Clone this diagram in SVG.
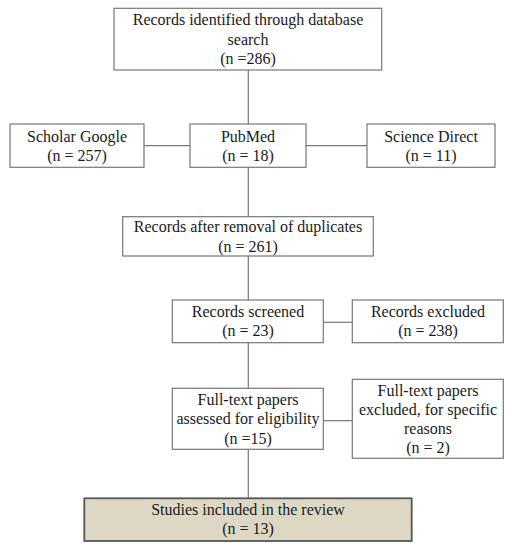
<svg xmlns="http://www.w3.org/2000/svg" width="517" height="550" viewBox="0 0 517 550">
<style>
.box{fill:#ffffff;stroke:#777777;stroke-width:1.2}
.fin{fill:#ddd8c3;stroke:#555555;stroke-width:1.8}
.t{font-family:"Liberation Serif","Times New Roman",serif;font-size:16px;fill:#1a1a1a;text-anchor:middle}
.c{stroke:#777777;stroke-width:1.2;fill:none}
</style>
<rect width="517" height="550" fill="#ffffff"/>
<g id="connectors">
<line class="c" x1="248.3" y1="70" x2="248.3" y2="124"/>
<line class="c" x1="144" y1="145.7" x2="190" y2="145.7"/>
<line class="c" x1="306" y1="145.7" x2="367" y2="145.7"/>
<line class="c" x1="248.3" y1="167.3" x2="248.3" y2="216.7"/>
<line class="c" x1="248.3" y1="256" x2="248.3" y2="300"/>
<line class="c" x1="323.3" y1="322.3" x2="352.3" y2="322.3"/>
<line class="c" x1="248.3" y1="342.7" x2="248.3" y2="388.3"/>
<line class="c" x1="323.3" y1="420.7" x2="352.3" y2="420.7"/>
<line class="c" x1="248.3" y1="449.3" x2="248.3" y2="498.3"/>
</g>
<g id="identified">
<rect class="box" x="114" y="8.3" width="267.7" height="61.7"/>
<text class="t" x="248" y="25">Records identified through database</text>
<text class="t" x="248" y="44.5">search</text>
<text class="t" x="248" y="64">(n =286)</text>
</g>
<g id="scholar">
<rect class="box" x="10" y="124" width="134" height="43.3"/>
<text class="t" x="77" y="141.7">Scholar Google</text>
<text class="t" x="77" y="160.5">(n = 257)</text>
</g>
<g id="pubmed">
<rect class="box" x="190" y="124" width="116" height="43.3"/>
<text class="t" x="248" y="141.7">PubMed</text>
<text class="t" x="248" y="160.5">(n = 18)</text>
</g>
<g id="science">
<rect class="box" x="367" y="124" width="128" height="43.3"/>
<text class="t" x="431" y="141.7">Science Direct</text>
<text class="t" x="431" y="160.5">(n = 11)</text>
</g>
<g id="duplicates">
<rect class="box" x="122.7" y="216.7" width="250.6" height="39.3"/>
<text class="t" x="248" y="232">Records after removal of duplicates</text>
<text class="t" x="248" y="251.5">(n = 261)</text>
</g>
<g id="screened">
<rect class="box" x="172.3" y="300" width="151" height="42.7"/>
<text class="t" x="248" y="316.5">Records screened</text>
<text class="t" x="248" y="335.5">(n = 23)</text>
</g>
<g id="excluded">
<rect class="box" x="352.3" y="300" width="151" height="42.7"/>
<text class="t" x="428" y="316.5">Records excluded</text>
<text class="t" x="428" y="335.5">(n = 238)</text>
</g>
<g id="fulltext">
<rect class="box" x="172.3" y="388.3" width="151" height="61"/>
<text class="t" x="248" y="404.5">Full-text papers</text>
<text class="t" x="248" y="424">assessed for eligibility</text>
<text class="t" x="248" y="443.5">(n =15)</text>
</g>
<g id="fulltext-excluded">
<rect class="box" x="352.3" y="379.3" width="151" height="79"/>
<text class="t" x="428" y="395.5">Full-text papers</text>
<text class="t" x="428" y="414.5">excluded, for specific</text>
<text class="t" x="428" y="433.5">reasons</text>
<text class="t" x="428" y="452.5">(n = 2)</text>
</g>
<g id="included">
<rect class="fin" x="84.3" y="498.3" width="327.4" height="42.7"/>
<text class="t" x="248" y="515">Studies included in the review</text>
<text class="t" x="248" y="534">(n = 13)</text>
</g>
</svg>
